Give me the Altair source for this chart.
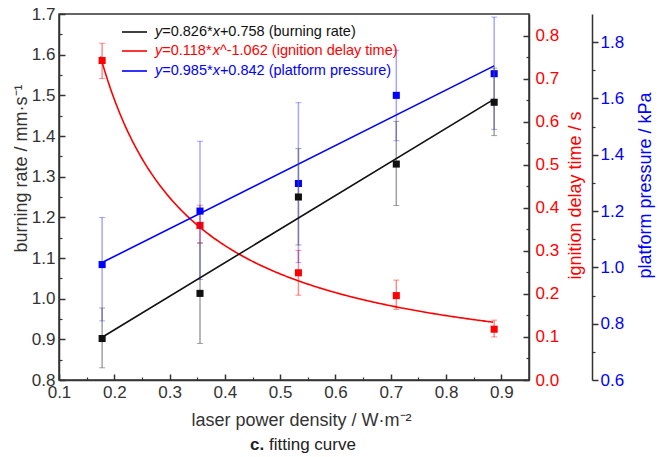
import altair as alt
import pandas as pd

# ---------------- data ----------------
x_vals = [0.178, 0.355, 0.533, 0.710, 0.887]

burn = [0.902, 1.013, 1.250, 1.331, 1.483]
burn_lo = [0.830, 0.890, 1.132, 1.229, 1.401]
burn_hi = [0.977, 1.137, 1.369, 1.436, 1.567]

ign = [0.742, 0.359, 0.249, 0.196, 0.118]
ign_lo = [0.700, 0.318, 0.197, 0.164, 0.100]
ign_hi = [0.782, 0.406, 0.301, 0.232, 0.139]

pres = [1.010, 1.200, 1.298, 1.611, 1.688]
pres_lo = [0.810, 0.957, 1.017, 1.450, 1.490]
pres_hi = [1.177, 1.448, 1.585, 1.771, 1.889]

burn_fit = [0.826, 0.758]     # y = a*x + b
ign_fit = [0.118, -1.062]     # y = a*x^b
pres_fit = [0.985, 0.842]     # y = a*x + b

x_ticks = [0.1, 0.2, 0.3, 0.4, 0.5, 0.6, 0.7, 0.8, 0.9]
x_minor = [0.15, 0.25, 0.35, 0.45, 0.55, 0.65, 0.75, 0.85]
burn_ticks = [0.8, 0.9, 1.0, 1.1, 1.2, 1.3, 1.4, 1.5, 1.6, 1.7]
burn_minor = [0.85, 0.95, 1.05, 1.15, 1.25, 1.35, 1.45, 1.55, 1.65]
ign_ticks = [0.0, 0.1, 0.2, 0.3, 0.4, 0.5, 0.6, 0.7, 0.8]
ign_minor = [0.05, 0.15, 0.25, 0.35, 0.45, 0.55, 0.65, 0.75]
pres_ticks = [0.6, 0.8, 1.0, 1.2, 1.4, 1.6, 1.8]
pres_minor = [0.7, 0.9, 1.1, 1.3, 1.5, 1.7]

# legend rows: (text, italic?) segments
legend_rows = [
    [("y", True), (f"={burn_fit[0]}*", False), ("x", True), (f"+{burn_fit[1]} (burning rate)", False)],
    [("y", True), (f"={ign_fit[0]}*", False), ("x", True), (f"^{ign_fit[1]} (ignition delay time)", False)],
    [("y", True), (f"={pres_fit[0]}*", False), ("x", True), (f"+{pres_fit[1]} (platform pressure)", False)],
]

# ---------------- styling ----------------
FONT = "Liberation Sans, Arial"
AX = "#333333"
RED = "#ff0000"
BLUE = "#0000ff"
BLACK = "#111111"
W, H = 470, 366
XDOM = [0.1, 0.95]
BDOM = [0.8, 1.7]
IDOM = [0.0, 0.85]
PDOM = [0.6, 1.9]
LBL = 17
TTL = 18
LEG = 14.5

# Arial / Liberation Sans advance widths (1/1000 em) for legend layout
_WID = {c: 556 for c in "0123456789"}
_WID.update({".": 278, "=": 584, "*": 389, "+": 584, "^": 469, "-": 333,
             "x": 500, "y": 500})


def seg_width(s, fs):
    return sum(_WID.get(c, 556) for c in s) * fs / 1000.0


df = pd.DataFrame({
    "x": x_vals,
    "burn": burn, "burn_lo": burn_lo, "burn_hi": burn_hi,
    "ign": ign, "ign_lo": ign_lo, "ign_hi": ign_hi,
    "pres": pres, "pres_lo": pres_lo, "pres_hi": pres_hi,
})

xs = alt.Scale(domain=XDOM, nice=False, zero=False)


def X(axis=None):
    return alt.X("x:Q", scale=xs, axis=axis)


x_axis = alt.Axis(
    orient="bottom", values=x_ticks, format=".1f", grid=False,
    tickSize={"expr": "-6"}, tickWidth=1.5, tickColor=AX,
    domainColor=AX, domainWidth=1.5, labelPadding=10, labelFlush=False,
    labelFont=FONT, labelFontSize=LBL, labelColor=AX,
    title="laser power density / W·m⁻²", titleFont=FONT, titleFontSize=TTL,
    titleFontWeight="normal", titleColor=AX, titleX=242, titleY=40,
    titleAlign="center", titleBaseline="middle",
)
burn_axis = alt.Axis(
    orient="left", values=burn_ticks, format=".1f", grid=False,
    tickSize={"expr": "-6"}, tickWidth=1.5, tickColor=AX,
    domainColor=AX, domainWidth=1.5, labelPadding=10, labelFlush=False,
    labelFont=FONT, labelFontSize=LBL, labelColor=AX,
    title="burning rate / mm·s⁻¹", titleFont=FONT, titleFontSize=TTL,
    titleFontWeight="normal", titleColor=AX, titleX=-38, titleY=154,
    titleAngle=270, titleAlign="center", titleBaseline="middle",
)
ign_axis = alt.Axis(
    orient="right", values=ign_ticks, format=".1f", grid=False,
    tickSize={"expr": "-6"}, tickWidth=1.5, tickColor=AX,
    domainColor=AX, domainWidth=1.5, labelPadding=12, labelFlush=False,
    labelFont=FONT, labelFontSize=LBL, labelColor=RED,
    title="ignition delay time / s", titleFont=FONT, titleFontSize=TTL,
    titleFontWeight="normal", titleColor=RED, titleX=46, titleY=181,
    titleAngle=270, titleAlign="center", titleBaseline="middle",
)
pres_axis = alt.Axis(
    orient="right", offset=63, values=pres_ticks, format=".1f", grid=False,
    tickSize=6, tickWidth=1.5, tickColor=AX,
    domainColor=AX, domainWidth=1.5, labelPadding=2, labelFlush=False,
    labelFont=FONT, labelFontSize=LBL, labelColor=BLUE,
    title="platform pressure / kPa", titleFont=FONT, titleFontSize=TTL,
    titleFontWeight="normal", titleColor=BLUE, titleX=53, titleY=171,
    titleAngle=270, titleAlign="center", titleBaseline="middle",
)

burn_line = alt.Chart(pd.DataFrame({"x": [x_vals[0], x_vals[-1]]})).transform_calculate(
    y=f"{burn_fit[0]}*datum.x+{burn_fit[1]}")
pres_line = alt.Chart(pd.DataFrame({"x": [x_vals[0], x_vals[-1]]})).transform_calculate(
    y=f"{pres_fit[0]}*datum.x+{pres_fit[1]}")
ign_curve = alt.Chart(alt.sequence(0.175, 0.8875, 0.0025, as_="x")).transform_calculate(
    y=f"{ign_fit[0]}*pow(datum.x,{ign_fit[1]})")


def series(lo, hi, mid, fitchart, dom, color, barcolor, baropac):
    ys = alt.Scale(domain=dom, nice=False, zero=False)
    base = alt.Chart(df)
    bars = base.mark_rule(color=barcolor, opacity=baropac, strokeWidth=1.5).encode(
        x=X(), y=alt.Y(f"{lo}:Q", scale=ys, axis=None), y2=f"{hi}:Q")
    cap_lo = base.mark_tick(orient="horizontal", color=barcolor, opacity=baropac,
                            size=6, thickness=1).encode(
        x=X(), y=alt.Y(f"{lo}:Q", scale=ys, axis=None))
    cap_hi = base.mark_tick(orient="horizontal", color=barcolor, opacity=baropac,
                            size=6, thickness=1).encode(
        x=X(), y=alt.Y(f"{hi}:Q", scale=ys, axis=None))
    fit = fitchart.mark_line(color=color, strokeWidth=1.6, clip=True).encode(
        x=X(), y=alt.Y("y:Q", scale=ys, axis=None))
    pts = base.mark_square(color=color, size=50, opacity=1).encode(
        x=X(), y=alt.Y(f"{mid}:Q", scale=ys, axis=None))
    return [bars, cap_lo, cap_hi, fit, pts]


def axis_layer(dom, axis, xaxis=None):
    return alt.Chart(df).mark_point(opacity=0).encode(
        x=X(xaxis),
        y=alt.Y("burn:Q", scale=alt.Scale(domain=dom, nice=False, zero=False), axis=axis))


def minor_axis(values, orient, size, offset=0):
    return alt.Axis(orient=orient, values=values, labels=False, domain=False, grid=False,
                    ticks=True, tickSize=size, tickWidth=1.2, tickColor=AX, title=None,
                    offset=offset)


layers = []
layers += series("ign_lo", "ign_hi", "ign", ign_curve, IDOM, RED, RED, 0.45)
layers += series("pres_lo", "pres_hi", "pres", pres_line, PDOM, BLUE, BLUE, 0.35)
layers += series("burn_lo", "burn_hi", "burn", burn_line, BDOM, BLACK, "#555555", 0.55)

layers.append(axis_layer(BDOM, burn_axis, x_axis))
layers.append(axis_layer(IDOM, ign_axis))
layers.append(axis_layer(PDOM, pres_axis))
layers.append(axis_layer(BDOM, minor_axis(burn_minor, "left", {"expr": "-3"})))
layers.append(axis_layer(IDOM, minor_axis(ign_minor, "right", {"expr": "-3"})))
layers.append(axis_layer(PDOM, minor_axis(pres_minor, "right", 3, 63)))
layers.append(alt.Chart(df).mark_point(opacity=0).encode(
    x=alt.X("x:Q", scale=xs, axis=alt.Axis(
        orient="bottom", values=x_minor, labels=False, domain=False, grid=False,
        tickSize={"expr": "-3"}, tickWidth=1.2, tickColor=AX, title=None))))

# ---------------- legend ----------------
leg_colors = [BLACK, RED, BLUE]
leg_y = [18, 37, 57]
for row, col, yy in zip(legend_rows, leg_colors, leg_y):
    layers.append(
        alt.Chart(pd.DataFrame({"t": [row[0][0]]})).mark_rule(color=col, strokeWidth=1.6).encode(
            x=alt.value(63), x2=alt.value(88), y=alt.value(yy)))
    xpos = 96.0
    for txt, ital in row:
        layers.append(
            alt.Chart(pd.DataFrame({"t": [txt]})).mark_text(
                color=col, font=FONT, fontSize=LEG, align="left", baseline="middle",
                fontStyle="italic" if ital else "normal").encode(
                text="t:N", x=alt.value(round(xpos, 2)), y=alt.value(yy)))
        xpos += seg_width(txt, LEG)

layers.append(alt.Chart(pd.DataFrame({"t": ["c."]})).mark_text(
    color="#222222", font=FONT, fontSize=17, fontWeight="bold", align="left",
    baseline="middle").encode(text="t:N", x=alt.value(191), y=alt.value(431)))
layers.append(alt.Chart(pd.DataFrame({"t": ["fitting curve"]})).mark_text(
    color="#222222", font=FONT, fontSize=17, align="left",
    baseline="middle").encode(text="t:N", x=alt.value(210), y=alt.value(431)))

chart = alt.layer(*layers).resolve_scale(y="independent").resolve_axis(
    x="independent", y="independent").properties(
    width=W, height=H,
    padding={"left": 51, "top": 6, "right": 129, "bottom": 76},
    autosize=alt.AutoSizeParams(type="none"),
    background="white",
).configure_view(stroke=AX, strokeWidth=1.5)

chart.save("out.html", embed_options={"renderer": "svg", "actions": False})
